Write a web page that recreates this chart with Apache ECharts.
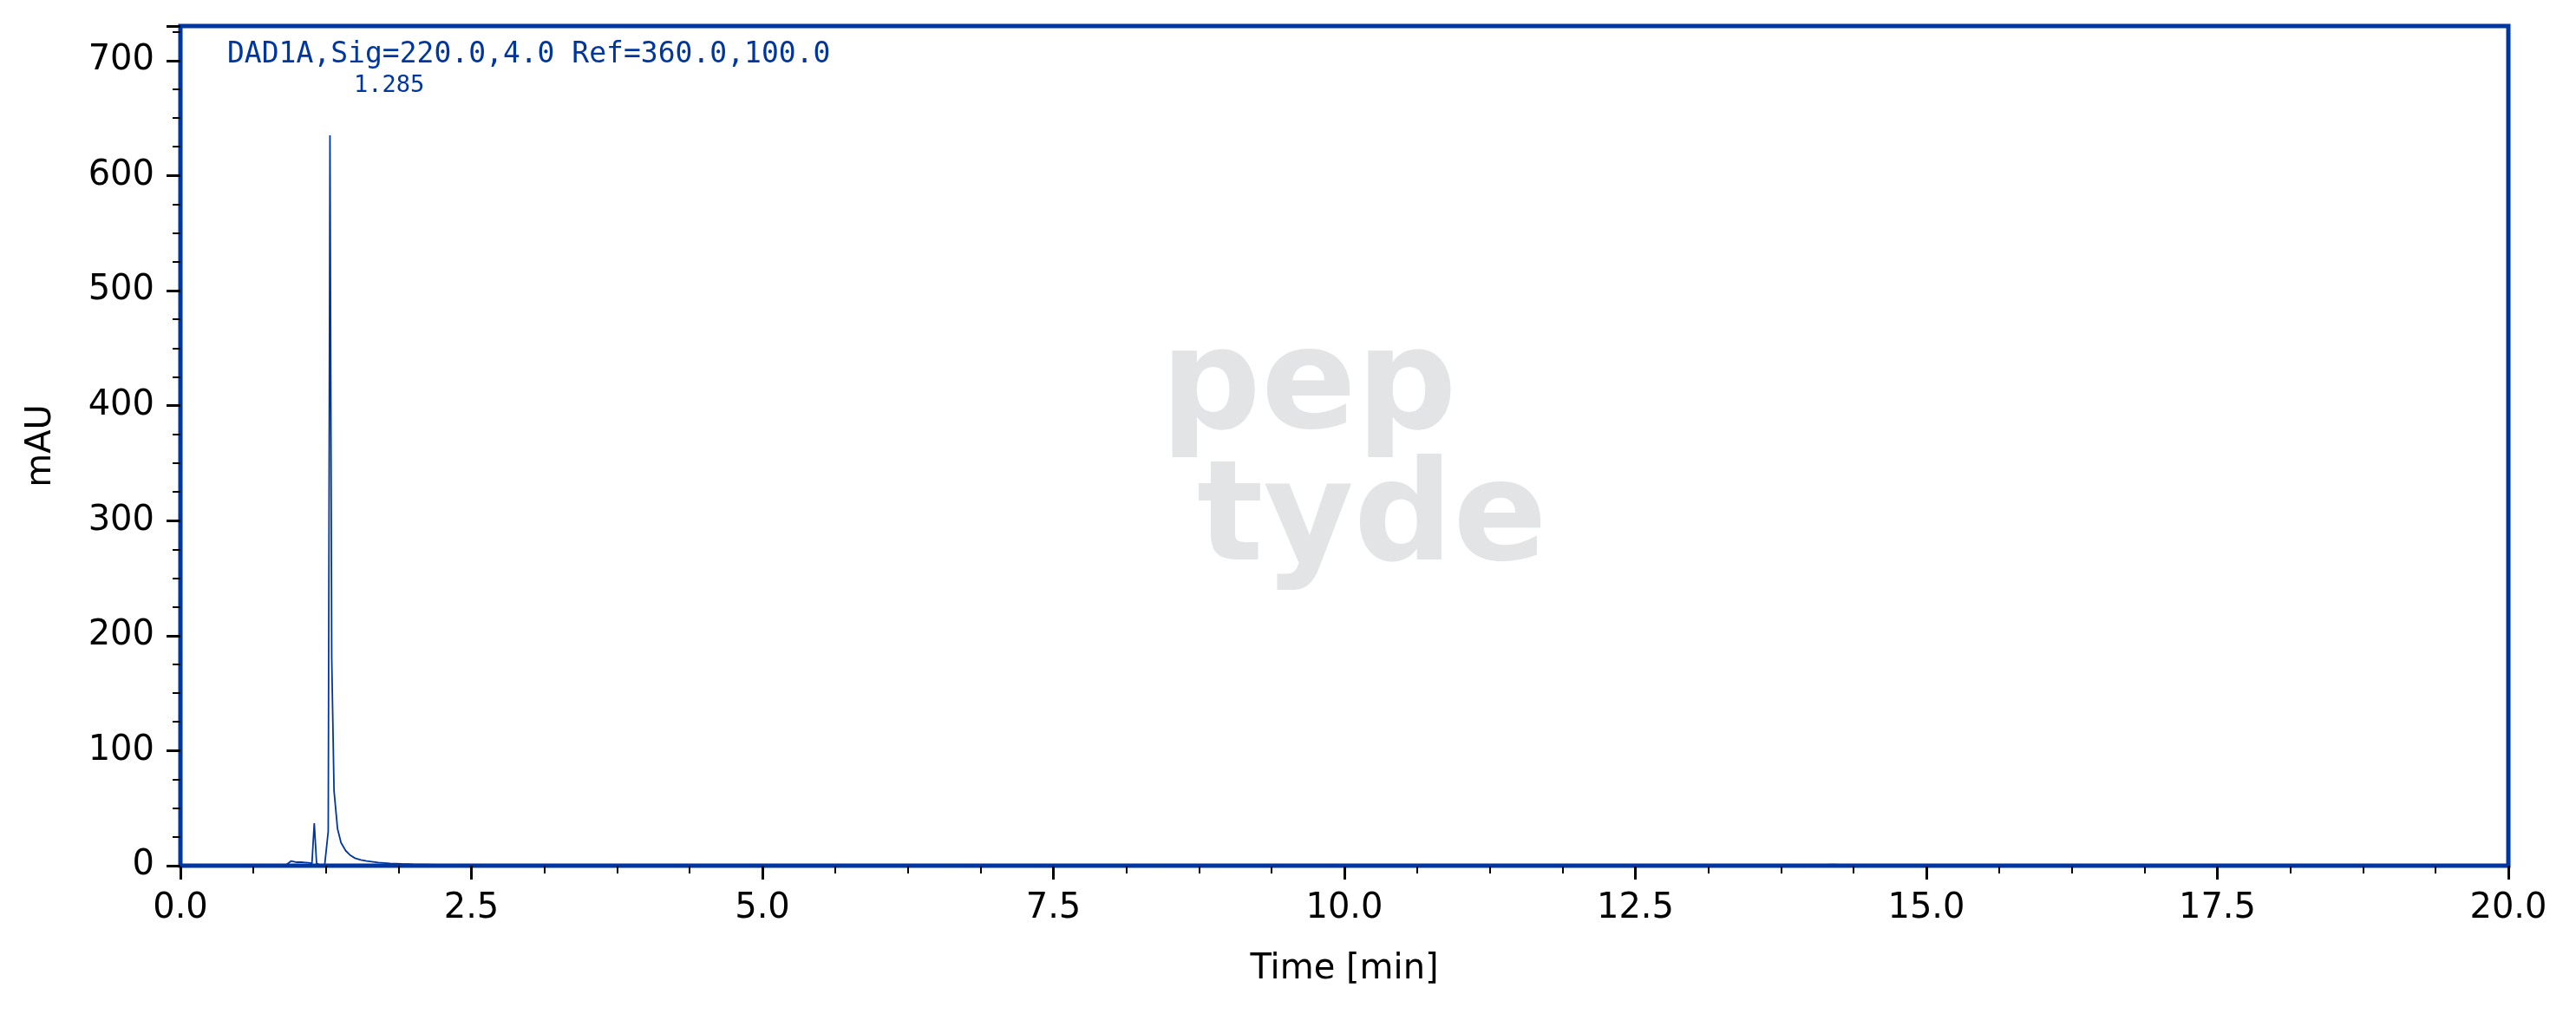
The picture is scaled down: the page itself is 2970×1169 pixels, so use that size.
<!DOCTYPE html>
<html><head><meta charset="utf-8">
<script src="https://cdn.jsdelivr.net/npm/echarts@6/dist/echarts.min.js"></script>
<style>html,body{margin:0;padding:0;background:#fff}#c{width:2970px;height:1169px}</style>
</head><body><div id="c"></div>
<script>
const times = [0,0.5,0.9,0.95,1.0,1.05,1.1,1.13,1.15,1.17,1.2,1.24,1.27,1.285,1.3,1.32,1.35,1.38,1.42,1.46,1.5,1.55,1.6,1.7,1.8,1.9,2.0,2.2,2.5,3.0,5,10,13.8,13.9,14.0,14.2,14.3,14.4,15,20];
const mau   = [0,0,0,4,3,3,2.5,2,37,2,0.5,1,30,635,180,65,32,20,13,9,6.5,5,4,2.8,2,1.5,1.2,0.8,0.5,0.3,0.1,0,0,0.8,0.5,1,0.6,0,0,0];
const xTicks = [0,2.5,5,7.5,10,12.5,15,17.5,20];
const yTicks = [0,100,200,300,400,500,600,700];
const traceLabel = 'DAD1A,Sig=220.0,4.0 Ref=360.0,100.0';
const peakLabel = '1.285';
const blue = '#00379e';
const data = times.map((t,i)=>[t,mau[i]]);
const chart = echarts.init(document.getElementById('c'));
chart.setOption({
  animation:false,
  grid:{left:208,right:78,top:30,bottom:171,show:true,borderColor:blue,borderWidth:5},
  graphic:[
    {type:'text',left:1338,top:370,style:{text:'pep',font:'bold 162px "DejaVu Sans"',fill:'#e3e4e6'}},
    {type:'text',left:1380,top:523,style:{text:'tyde',font:'bold 160px "DejaVu Sans"',fill:'#e3e4e6'}},
    {type:'text',left:262,top:47,style:{text:traceLabel,font:'33px "DejaVu Sans Mono"',fill:blue}},
    {type:'text',left:408,top:85,style:{text:peakLabel,font:'27px "DejaVu Sans Mono"',fill:blue}}
  ],
  xAxis:{type:'value',min:0,max:20,interval:2.5,name:'Time [min]',nameLocation:'middle',nameGap:100,
    nameTextStyle:{fontSize:40,fontFamily:'DejaVu Sans',color:'#000'},
    axisLine:{show:false},splitLine:{show:false},
    axisTick:{show:true,length:16,lineStyle:{color:'#000',width:3}},
    minorTick:{show:true,splitNumber:4,length:9,lineStyle:{color:'#000',width:2}},
    axisLabel:{fontSize:40,fontFamily:'DejaVu Sans',color:'#000',margin:30,formatter:v=>v.toFixed(1)}},
  yAxis:{type:'value',min:0,max:730,interval:100,name:'mAU',nameLocation:'middle',nameGap:140,
    nameTextStyle:{fontSize:40,fontFamily:'DejaVu Sans',color:'#000'},
    axisLine:{show:false},splitLine:{show:false},
    axisTick:{show:true,length:16,lineStyle:{color:'#000',width:3}},
    minorTick:{show:true,splitNumber:4,length:9,lineStyle:{color:'#000',width:2}},
    axisLabel:{fontSize:40,fontFamily:'DejaVu Sans',color:'#000',margin:30,showMaxLabel:false,
      formatter:v=>yTicks.includes(v)?String(v):''}},
  series:[{type:'line',data:data,showSymbol:false,lineStyle:{color:blue,width:1.8}}]
});
</script></body></html>
